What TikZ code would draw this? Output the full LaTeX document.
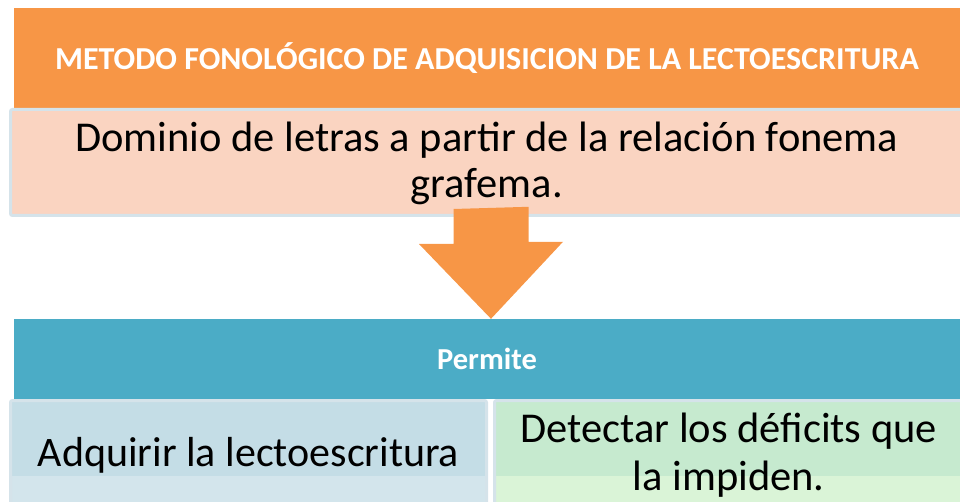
\documentclass[tikz,border=0pt]{standalone}
\usepackage{fontspec}
\setmainfont{Carlito}
\usepackage{tikz}
\usetikzlibrary{calc}
\usetikzlibrary{positioning}

\definecolor{headorange}{HTML}{F79646}
\definecolor{headteal}{HTML}{4BACC6}
\definecolor{pinkfill}{HTML}{FAD4C1}
\definecolor{bluefill}{HTML}{C4DDE6}
\definecolor{bluelow}{HTML}{D3E5EC}
\definecolor{greenfill}{HTML}{C6EACF}
\definecolor{greenlow}{HTML}{DAF4D7}
\definecolor{boxedge}{HTML}{D5E3EA}

\begin{document}
\begin{tikzpicture}[x = 1pt, y = -1pt,
		header/.style = {rectangle, inner sep=0pt, text=white, align=center, font=\bfseries\fontsize{32}{38}\selectfont},
		box/.style = {rectangle, draw=boxedge, line width=3pt, rounded corners=2pt, inner sep=0pt, align=center, font=\fontsize{42.5}{46}\selectfont},
		lowband/.style = {path picture={\fill[#1] ($(path picture bounding box.west)+(0,21)$) rectangle (path picture bounding box.south east);}}]
			 	\useasboundingbox (0, 0) rectangle (960, 502);
			 	
			 	% Nodes
			 	\node[header, fill=headorange, minimum width=946, minimum height=100] (title) at (487, 58) {METODO FONOLÓGICO DE ADQUISICION DE LA LECTOESCRITURA};
			 	\node[box, fill=pinkfill, minimum width=952.5, minimum height=106, text depth=6pt] (def) at (486.75, 162.5) {Dominio de letras a partir de la relación fonema\\grafema.};
			 	\node[header, fill=headteal, minimum width=946, minimum height=80, font=\bfseries\fontsize{30.5}{36}\selectfont] (permite) at (487, 359) {Permite};
			 	\node[box, fill=bluefill, lowband=bluelow, minimum width=476, minimum height=109, font=\fontsize{42}{45}\selectfont] (adquirir) at (248.5, 455) {Adquirir la lectoescritura};
			 	\node[box, fill=greenfill, lowband=greenlow, minimum width=468.5, minimum height=109, font=\fontsize{42.5}{48}\selectfont] (detectar) at (728.75, 455) {Detectar los déficits que\\la impiden.};
			 	
			 	% Edges
			 	\coordinate (from) at ($(def.south -| 491, 0)+(0, -8)$);
			 	\coordinate (to) at (permite.north -| from);
			 	\fill[headorange] (from) ++(-37.5, 0) -- ++(0, 35) -- ++(-34.5, 0) -- (to) -- ++(72, -77) -- ++(-34.5, 0) -- ++(0, -35) -- cycle;
			\end{tikzpicture}
\end{document}
